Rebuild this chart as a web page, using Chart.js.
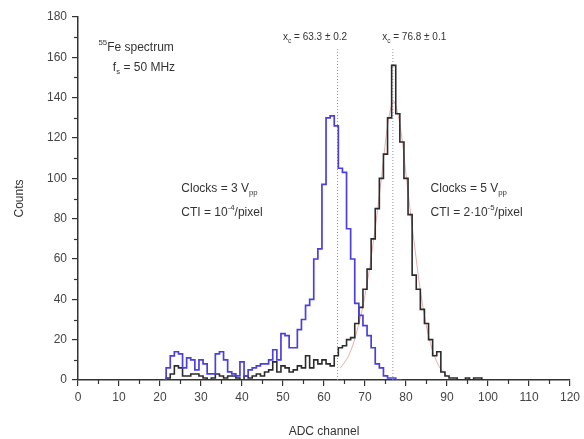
<!DOCTYPE html>
<html>
<head>
<meta charset="utf-8">
<script src="https://cdn.jsdelivr.net/npm/chart.js@4"></script>
<style>
  html, body { margin: 0; padding: 0; background: #fff; }
  #wrap { width: 584px; height: 439px; }
</style>
</head>
<body>
<div id="wrap"><canvas id="myChart"></canvas></div>
<script>
// 3 Vpp clocks histogram (blue)
const blueChannels = [21, 22, 23, 24, 25, 26, 27, 28, 29, 30, 31, 32, 33, 34, 35, 36, 37, 38, 39, 40,
    41, 42, 43, 44, 45, 46, 47, 48, 49, 50, 51, 52, 53, 54, 55, 56, 57, 58, 59, 60,
    61, 62, 63, 64, 65, 66, 67, 68, 69, 70, 71, 72, 73, 74, 75, 76, 77, 78, 79];
const blueCounts = [0, 6, 12, 14, 13, 6, 11, 10, 5, 10, 8, 3, 3, 13, 14, 10, 4, 3, 2, 9,
    2, 5, 6, 7, 8, 8, 10, 15, 10, 23, 22, 16, 16, 25, 30, 37, 40, 60, 65, 97,
    130, 131, 126, 105, 103, 75, 60, 38, 32, 27, 22, 16, 8, 6, 2, 1, 1, 0, 0];

// 5 Vpp clocks histogram (black)
const blackChannels = [21, 22, 23, 24, 25, 26, 27, 28, 29, 30, 31, 32, 33, 34, 35, 36, 37, 38, 39, 40,
    41, 42, 43, 44, 45, 46, 47, 48, 49, 50, 51, 52, 53, 54, 55, 56, 57, 58, 59, 60,
    61, 62, 63, 64, 65, 66, 67, 68, 69, 70, 71, 72, 73, 74, 75, 76, 77, 78, 79, 80,
    81, 82, 83, 84, 85, 86, 87, 88, 89, 90, 91, 92, 93, 94, 95, 96, 97, 98, 99];
const blackCounts = [0, 1, 3, 7, 6, 2, 2, 3, 3, 2, 1, 0, 1, 3, 2, 1, 2, 2, 1, 0,
    2, 1, 2, 3, 2, 4, 5, 9, 4, 7, 6, 4, 5, 7, 6, 12, 6, 10, 8, 10,
    8, 7, 12, 16, 17, 20, 21, 28, 36, 45, 55, 70, 85, 100, 112, 130, 156, 132, 118, 100,
    82, 52, 45, 35, 28, 20, 12, 14, 4, 2, 1, 1, 0, 0, 1, 0, 1, 1, 0];

// fitted peak of the 5 Vpp spectrum
const redFitChannels = [64, 66, 68, 70, 72, 74, 75, 76, 77, 78, 79, 80, 82, 84, 86, 88, 90];
const redFitCounts = [6, 12, 24, 42, 68, 100, 118, 132, 138, 132, 120, 102, 68, 38, 18, 7, 2];

// peak centres
const peakCentres = [63.3, 76.8];
const peakTop = 164;

const xTicks = [0, 10, 20, 30, 40, 50, 60, 70, 80, 90, 100, 110, 120];
const yTicks = [0, 20, 40, 60, 80, 100, 120, 140, 160, 180];

const pts = (xs, ys) => xs.map((x, i) => ({ x: x, y: ys[i] }));

const FONT = '"Liberation Sans", Arial, sans-serif';
const INK = '#333';

// text with sub/superscripts, positioned in data units
const notes = [
    { x: 5.0, y: 165, parts: [['55', 'sup'], ['Fe spectrum']] },
    { x: 8.5, y: 155, parts: [['f'], ['s', 'sub'], [' = 50 MHz']] },
    { x: 25.2, y: 95, parts: [['Clocks = 3 V'], ['pp', 'sub']] },
    { x: 25.2, y: 83, parts: [['CTI = 10'], ['-4', 'sup'], ['/pixel']] },
    { x: 86.0, y: 95, parts: [['Clocks = 5 V'], ['pp', 'sub']] },
    { x: 86.0, y: 83, parts: [['CTI = 2\u00b710'], ['-5', 'sup'], ['/pixel']] },
    { x: 50.0, y: 170, small: true, parts: [['x'], ['c', 'sub'], [' = 63.3 \u00b1 0.2']] },
    { x: 74.2, y: 170, small: true, parts: [['x'], ['c', 'sub'], [' = 76.8 \u00b1 0.1']] }
];

const notesPlugin = {
    id: 'notes',
    afterDatasetsDraw(chart) {
        const ctx = chart.ctx;
        const xs = chart.scales.x, ys = chart.scales.y;
        ctx.save();
        ctx.fillStyle = INK;
        ctx.textBaseline = 'middle';
        ctx.textAlign = 'left';
        notes.forEach(n => {
            const base = n.small ? 10 : 12;
            let px = xs.getPixelForValue(n.x);
            const py = ys.getPixelForValue(n.y);
            n.parts.forEach(p => {
                let size = base, dy = 0;
                if (p[1] === 'sup') { size = base * 0.65; dy = -base * 0.4; }
                if (p[1] === 'sub') { size = base * 0.65; dy = base * 0.38; }
                ctx.font = size + 'px ' + FONT;
                ctx.fillText(p[0], px, py + dy);
                px += ctx.measureText(p[0]).width;
            });
        });

        // minor ticks
        ctx.strokeStyle = INK;
        ctx.lineWidth = 1.2;
        const bottom = chart.chartArea.bottom, left = chart.chartArea.left;
        for (let i = 0; i < xTicks.length - 1; i++) {
            const px = Math.round(xs.getPixelForValue((xTicks[i] + xTicks[i + 1]) / 2)) + 0.5;
            ctx.beginPath(); ctx.moveTo(px, bottom); ctx.lineTo(px, bottom + 4); ctx.stroke();
        }
        for (let i = 0; i < yTicks.length - 1; i++) {
            const py = Math.round(ys.getPixelForValue((yTicks[i] + yTicks[i + 1]) / 2)) + 0.5;
            ctx.beginPath(); ctx.moveTo(left, py); ctx.lineTo(left - 4, py); ctx.stroke();
        }
        ctx.restore();
    }
};

const datasets = [
    {
        data: pts(blueChannels, blueCounts),
        borderColor: '#4a3fe0', borderWidth: 1.7, stepped: 'middle', pointRadius: 0
    },
    {
        data: pts(blackChannels, blackCounts),
        borderColor: '#2b2b2b', borderWidth: 1.6, stepped: 'middle', pointRadius: 0
    },
    {
        data: pts(redFitChannels, redFitCounts),
        borderColor: 'rgba(205,70,70,0.45)', borderWidth: 1, tension: 0.4, pointRadius: 0
    }
];
peakCentres.forEach(c => {
    datasets.push({
        data: [{ x: c, y: 0 }, { x: c, y: peakTop }],
        borderColor: '#8a93a6', borderWidth: 1, borderDash: [1, 2], pointRadius: 0
    });
});

const config = {
    type: 'line',
    data: { datasets: datasets },
    options: {
        responsive: true,
        maintainAspectRatio: false,
        animation: false,
        layout: { padding: { top: 17, right: 10, left: 8, bottom: 0 } },
        plugins: { legend: { display: false }, tooltip: { enabled: false } },
        scales: {
            x: {
                type: 'linear', min: 0, max: 120,
                afterFit: s => { s.height = 59; },
                afterBuildTicks: s => { s.ticks = xTicks.map(v => ({ value: v })); },
                border: { display: true, color: INK, width: 1.5 },
                grid: { drawOnChartArea: false, drawTicks: true, tickLength: 6, color: INK, lineWidth: 1.2 },
                ticks: { color: '#444', font: { family: FONT, size: 12 }, padding: 4, maxRotation: 0 },
                title: { display: true, text: 'ADC channel', color: INK, font: { family: FONT, size: 12 }, padding: { top: 4, bottom: 0 } }
            },
            y: {
                type: 'linear', min: 0, max: 180,
                afterFit: s => { s.width = 70; },
                afterBuildTicks: s => { s.ticks = yTicks.map(v => ({ value: v })); },
                border: { display: true, color: INK, width: 1.5 },
                grid: { drawOnChartArea: false, drawTicks: true, tickLength: 6, color: INK, lineWidth: 1.2 },
                ticks: { color: '#444', font: { family: FONT, size: 12 }, padding: 5 },
                title: { display: true, text: 'Counts', color: INK, font: { family: FONT, size: 12 }, padding: { bottom: 8 } }
            }
        }
    },
    plugins: [notesPlugin]
};

const myChart = new Chart(document.getElementById('myChart'), config);
</script>
</body>
</html>
